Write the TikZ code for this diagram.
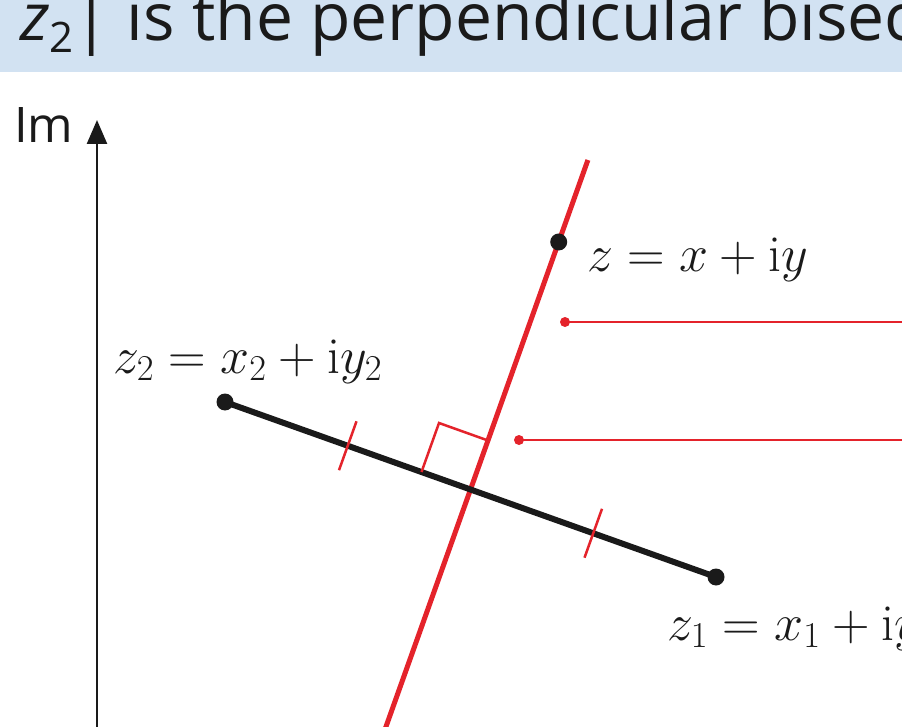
\RequirePackage{fix-cm}
\documentclass[tikz,border=0pt]{standalone}
\usepackage{fontspec}
\newfontfamily\bannerfont{Open Sans}
\usetikzlibrary{arrows.meta,calc}
\definecolor{pred}{HTML}{E4232B}
\definecolor{banner}{HTML}{D2E2F2}
\definecolor{ink}{HTML}{1A1A1A}
\tikzset{
  dotb/.style={circle,fill=ink,inner sep=0pt,minimum size=17pt},
  dotr/.style={circle,fill=pred,inner sep=0pt,minimum size=10pt},
  seg/.style={draw=ink,line width=6pt},
  bisector/.style={draw=pred,line width=5pt},
  thinred/.style={draw=pred,line width=2.5pt},
  axisline/.style={draw=ink,line width=2.5pt,-{Triangle[width=20pt,length=24pt]}},
  mathlbl/.style={anchor=base west,inner sep=0pt,text=ink,font=\fontsize{52}{60}\selectfont},
  sanslbl/.style={anchor=base west,inner sep=0pt,text=ink,font=\bannerfont\fontsize{49}{60}\selectfont}
}
\begin{document}
\begin{tikzpicture}[x=1pt,y=-1pt]
\useasboundingbox (0,0) rectangle (902,727);
\clip (0,0) rectangle (902,727);
\fill[white] (0,0) rectangle (902,727);
% banner
\fill[banner] (0,0) rectangle (902,72);
\node[sanslbl,font=\bannerfont\fontsize{66}{72}\selectfont] (title) at (20,41)
  {\textit{z}\raisebox{-12pt}{\fontsize{42}{46}\selectfont 2}| is the perpendicular bisector};
% axis
\coordinate (axbot) at (97,735);
\coordinate (axtop) at (97,120);
\draw[axisline] (axbot) -- (axtop);
\node[sanslbl] (im) at (14,143) {Im};
% points
\node[dotb] (z2) at (225,402) {};
\node[dotb] (z1) at (716,577) {};
\coordinate (M) at (470.5,489.5);
\coordinate (rtop) at (587.9,160);
\coordinate (rbot) at (384.8,730);
% bisector
\draw[bisector] (rtop) -- (rbot);
% segment
\draw[seg] (z2.center) -- (z1.center);
% z point
\node[dotb] (z) at (558.7,242) {};
% ticks
\coordinate (q1) at (347.75,445.75);
\coordinate (q3) at (593.25,533.25);
\draw[thinred] (339.0,470.2) -- (356.5,421.3);
\draw[thinred] (584.5,557.7) -- (602.0,508.8);
% right angle
\coordinate (ra) at (421.5,472.0);
\coordinate (rb) at (439.0,423.0);
\coordinate (rc) at (488.0,440.5);
\draw[thinred,line join=miter] (ra) -- (rb) -- (rc);
% pointer lines
\node[dotr] (p1) at (565,322) {};
\coordinate (p1e) at (905,322);
\draw[thinred] (p1.center) -- (p1e);
\node[dotr] (p2) at (519,440) {};
\coordinate (p2e) at (905,440);
\draw[thinred] (p2.center) -- (p2e);
% labels
\node[mathlbl] (lz) at (587,272) {$z = x + \mathrm{i}y$};
\node[mathlbl] (lz2) at (113,373) {$z_2 = x_2 + \mathrm{i}y_2$};
\node[mathlbl] (lz1) at (667,640) {$z_1 = x_1 + \mathrm{i}y_1$};
\end{tikzpicture}
\end{document}
